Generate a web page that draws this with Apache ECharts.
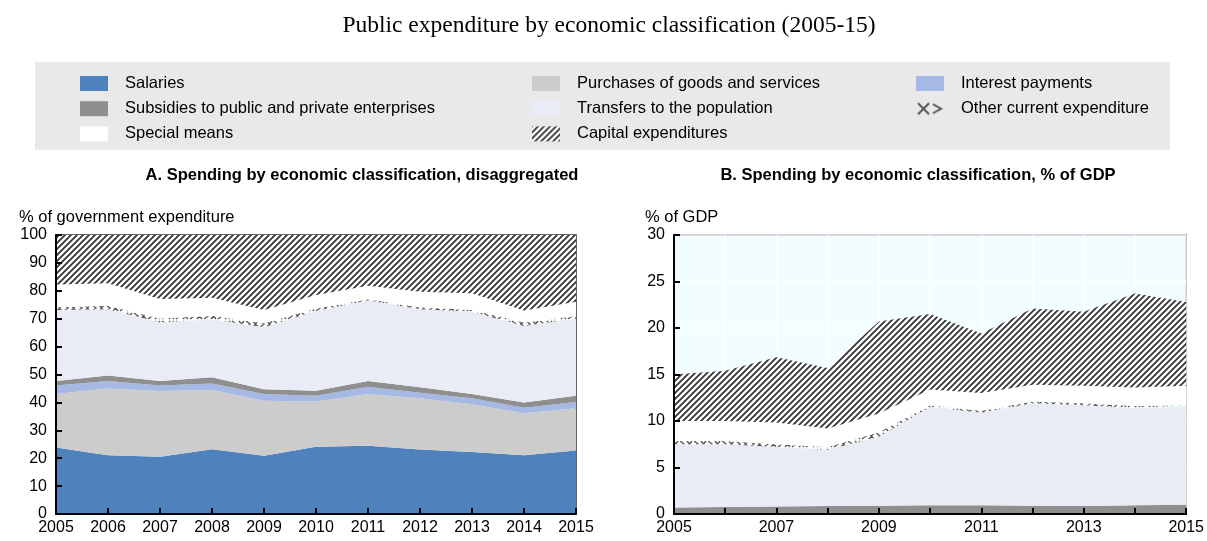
<!DOCTYPE html>
<html>
<head>
<meta charset="utf-8">
<script src="https://cdn.jsdelivr.net/npm/echarts@6/dist/echarts.min.js"></script>
<style>
html,body{margin:0;padding:0;background:#fff;}
#chart{width:1207px;height:541px;}
</style>
</head>
<body>
<div id="chart"></div>
<script>
// ---------- DATA ----------
const years = ['2005','2006','2007','2008','2009','2010','2011','2012','2013','2014','2015'];
const yTicksA = [0,10,20,30,40,50,60,70,80,90,100];
const yTicksB = [0,5,10,15,20,25,30];

// Panel A: % of government expenditure (thickness of each band)
const aSalaries  = [23.8, 21.1, 20.5, 23.2, 20.9, 24.1, 24.5, 23.1, 22.2, 21.1, 22.8];
const aPurchases = [19.2, 23.9, 23.6, 21.2, 19.7, 16.2, 18.5, 18.4, 17.1, 15.0, 15.1];
const aInterest  = [3.1, 2.7, 2.0, 2.4, 2.4, 2.1, 2.6, 2.0, 2.2, 2.0, 2.2];
const aSubsidies = [1.6, 1.9, 1.6, 2.2, 1.7, 1.8, 2.1, 1.9, 1.5, 1.9, 2.3];
const aTransfers = [25.4, 23.8, 20.9, 20.8, 22.2, 28.6, 28.8, 28.0, 29.5, 27.4, 27.7];
const aOther     = [1.0, 1.2, 1.5, 1.3, 1.5, 0.9, 0.5, 0.7, 0.6, 1.2, 0.9];
const aSpecial   = [8.2, 8.1, 7.0, 6.4, 4.7, 4.8, 4.8, 5.6, 6.0, 4.3, 5.1];
const aCapital   = [17.7, 17.3, 22.9, 22.5, 26.9, 21.5, 18.2, 20.3, 20.9, 27.1, 23.9];

// Panel B: % of GDP (thickness of each band)
const bSubsidies = [0.7, 0.75, 0.8, 0.85, 0.9, 0.95, 0.95, 0.9, 0.85, 0.95, 1.0];
const bTransfers = [6.8, 6.75, 6.4, 6.05, 7.4, 10.55, 9.95, 11.0, 10.85, 10.45, 10.5];
const bOther     = [0.35, 0.35, 0.3, 0.3, 0.5, 0.2, 0.2, 0.2, 0.2, 0.2, 0.2];
const bSpecial   = [2.15, 2.15, 2.35, 2.0, 2.0, 1.7, 1.9, 1.8, 1.9, 2.0, 2.1];
const bCapital   = [5.0, 5.4, 7.0, 6.5, 9.9, 8.1, 6.4, 8.2, 7.95, 10.1, 9.0];

const names = {
  sal: 'Salaries', pur: 'Purchases of goods and services', int: 'Interest payments',
  sub: 'Subsidies to public and private enterprises', tra: 'Transfers to the population',
  oth: 'Other current expenditure', spe: 'Special means', cap: 'Capital expenditures'
};

// ---------- PATTERNS ----------
function hatchCanvas(){
  const c = document.createElement('canvas'); c.width = 6; c.height = 6;
  const g = c.getContext('2d');
  g.fillStyle = '#ffffff'; g.fillRect(0,0,6,6);
  g.strokeStyle = '#333333'; g.lineWidth = 1.8;
  g.beginPath();
  g.moveTo(-1,7); g.lineTo(7,-1);
  g.moveTo(-1,1); g.lineTo(1,-1);
  g.moveTo(5,7); g.lineTo(7,5);
  g.stroke();
  return c;
}
function crossCanvas(){
  const c = document.createElement('canvas'); c.width = 14; c.height = 8;
  const g = c.getContext('2d');
  g.fillStyle = '#ffffff'; g.fillRect(0,0,14,8);
  g.strokeStyle = '#555555'; g.lineWidth = 1.4;
  g.beginPath();
  g.moveTo(1,1); g.lineTo(6,7); g.moveTo(6,1); g.lineTo(1,7);
  g.moveTo(8,1); g.lineTo(12,4); g.lineTo(8,7);
  g.stroke();
  return c;
}
function crossLegendCanvas(){
  const c = document.createElement('canvas'); c.width = 28; c.height = 15;
  const g = c.getContext('2d');
  g.fillStyle = '#e9e9e9'; g.fillRect(0,0,28,15);
  g.strokeStyle = '#555555'; g.lineWidth = 2;
  g.beginPath();
  g.moveTo(2,2); g.lineTo(13,13); g.moveTo(13,2); g.lineTo(2,13);
  g.moveTo(17,3); g.lineTo(25,7.5); g.lineTo(17,12);
  g.stroke();
  return c;
}
const hatch = { image: hatchCanvas(), repeat: 'repeat' };
const cross = { image: crossCanvas(), repeat: 'repeat' };
const crossLegend = { image: crossLegendCanvas(), repeat: 'repeat' };

const colors = {
  sal: '#4f81bd', pur: '#cccccc', int: '#a6b8e4', sub: '#8f8f8f',
  tra: '#e9ecf5', oth: cross, spe: '#ffffff', cap: hatch
};

const FONT = '"Liberation Sans", Arial, sans-serif';

function areaSeries(key, data, stack, xi, yi){
  const c = colors[key];
  return {
    name: names[key], type: 'line', stack: stack, data: data,
    xAxisIndex: xi, yAxisIndex: yi,
    symbol: 'none', showSymbol: false, smooth: false,
    lineStyle: { width: 0, color: typeof c === 'string' ? c : '#555' },
    itemStyle: { color: c },
    areaStyle: { color: c, opacity: 1 },
    emphasis: { disabled: true }, silent: true, animation: false
  };
}

function legendItem(key){
  const c = key === 'oth' ? crossLegend : colors[key];
  return { name: names[key], itemStyle: { color: c, borderWidth: 0 } };
}
function legendCol(keys, left){
  return {
    orient: 'vertical', left: left, top: 75, padding: 0,
    itemWidth: 28, itemHeight: 15, itemGap: 8.2,
    icon: 'rect', selectedMode: false,
    data: keys.map(legendItem),
    textStyle: { fontFamily: FONT, fontSize: 16.5, lineHeight: 15, color: '#000', padding: [0,0,0,12] }
  };
}

const tickLabelStyle = { fontFamily: FONT, fontSize: 16, color: '#000' };

const option = {
  animation: false,
  backgroundColor: '#ffffff',
  graphic: [{
    type: 'rect', left: 35, top: 62, z: -10, silent: true,
    shape: { width: 1135, height: 88 },
    style: { fill: '#e9e9e9' }
  }],
  title: [
    { text: 'Public expenditure by economic classification (2005-15)', left: 604, top: 9, textAlign: 'center',
      textStyle: { fontFamily: '"Liberation Serif", "Times New Roman", serif', fontWeight: 'normal', fontSize: 23.5, color: '#000' } },
    { text: 'A. Spending by economic classification, disaggregated', left: 357, top: 162, textAlign: 'center',
      textStyle: { fontFamily: FONT, fontWeight: 'bold', fontSize: 16.5, color: '#000' } },
    { text: 'B. Spending by economic classification, % of GDP', left: 913, top: 162, textAlign: 'center',
      textStyle: { fontFamily: FONT, fontWeight: 'bold', fontSize: 16.5, color: '#000' } },
    { text: '% of government expenditure', left: 14, top: 204,
      textStyle: { fontFamily: FONT, fontWeight: 'normal', fontSize: 16.5, color: '#000' } },
    { text: '% of GDP', left: 640, top: 204,
      textStyle: { fontFamily: FONT, fontWeight: 'normal', fontSize: 16.5, color: '#000' } }
  ],
  legend: [
    legendCol(['sal','sub','spe'], 80),
    legendCol(['pur','tra','cap'], 532),
    legendCol(['int','oth'], 916)
  ],
  grid: [
    { left: 56, top: 235, width: 520, height: 279, show: true, backgroundColor: '#ffffff', borderColor: '#333', borderWidth: 1.5 },
    { left: 674, top: 235, width: 514, height: 279, show: true, backgroundColor: '#f2fdff', borderColor: '#333', borderWidth: 1.5 }
  ],
  xAxis: [
    { type: 'category', gridIndex: 0, data: years, boundaryGap: false, z: 10,
      axisLine: { lineStyle: { color: '#000', width: 2 } },
      axisTick: { inside: true, length: 6, interval: 0, lineStyle: { color: '#000', width: 2 } },
      axisLabel: Object.assign({ interval: 0, margin: 6 }, tickLabelStyle),
      splitLine: { show: false } },
    { type: 'category', gridIndex: 1, data: years, boundaryGap: false, z: 10,
      axisLine: { lineStyle: { color: '#000', width: 2 } },
      axisTick: { inside: true, length: 6, interval: 0, lineStyle: { color: '#000', width: 2 } },
      axisLabel: Object.assign({ interval: 1, margin: 6 }, tickLabelStyle),
      splitLine: { show: false } },
    { type: 'category', gridIndex: 1, data: years, boundaryGap: false, z: 0,
      axisLine: { show: false }, axisTick: { show: false }, axisLabel: { show: false },
      splitLine: { show: true, interval: 0, lineStyle: { color: '#ffffff', width: 1.5 } } }
  ],
  yAxis: [
    { type: 'value', gridIndex: 0, min: 0, max: 100, interval: 10, z: 10,
      axisLine: { show: true, lineStyle: { color: '#000', width: 2 } },
      axisTick: { show: true, inside: true, length: 6, lineStyle: { color: '#000', width: 2 } },
      axisLabel: Object.assign({ margin: 9 }, tickLabelStyle),
      splitLine: { show: false } },
    { type: 'value', gridIndex: 1, min: 0, max: 30, interval: 5, z: 10,
      axisLine: { show: true, lineStyle: { color: '#000', width: 2 } },
      axisTick: { show: true, inside: true, length: 6, lineStyle: { color: '#000', width: 2 } },
      axisLabel: Object.assign({ margin: 9 }, tickLabelStyle),
      splitLine: { show: false } },
    { type: 'value', gridIndex: 1, min: 0, max: 30, interval: 5, z: 0,
      axisLine: { show: false }, axisTick: { show: false }, axisLabel: { show: false },
      splitLine: { show: true, lineStyle: { color: '#ffffff', width: 1.5 } } }
  ],
  series: [
    areaSeries('sal', aSalaries, 'A', 0, 0),
    areaSeries('pur', aPurchases, 'A', 0, 0),
    areaSeries('int', aInterest, 'A', 0, 0),
    areaSeries('sub', aSubsidies, 'A', 0, 0),
    areaSeries('tra', aTransfers, 'A', 0, 0),
    areaSeries('oth', aOther, 'A', 0, 0),
    areaSeries('spe', aSpecial, 'A', 0, 0),
    areaSeries('cap', aCapital, 'A', 0, 0),
    areaSeries('sub', bSubsidies, 'B', 1, 1),
    areaSeries('tra', bTransfers, 'B', 1, 1),
    areaSeries('oth', bOther, 'B', 1, 1),
    areaSeries('spe', bSpecial, 'B', 1, 1),
    areaSeries('cap', bCapital, 'B', 1, 1)
  ]
};

const chart = echarts.init(document.getElementById('chart'), null, { renderer: 'canvas' });
chart.setOption(option);
</script>
</body>
</html>
